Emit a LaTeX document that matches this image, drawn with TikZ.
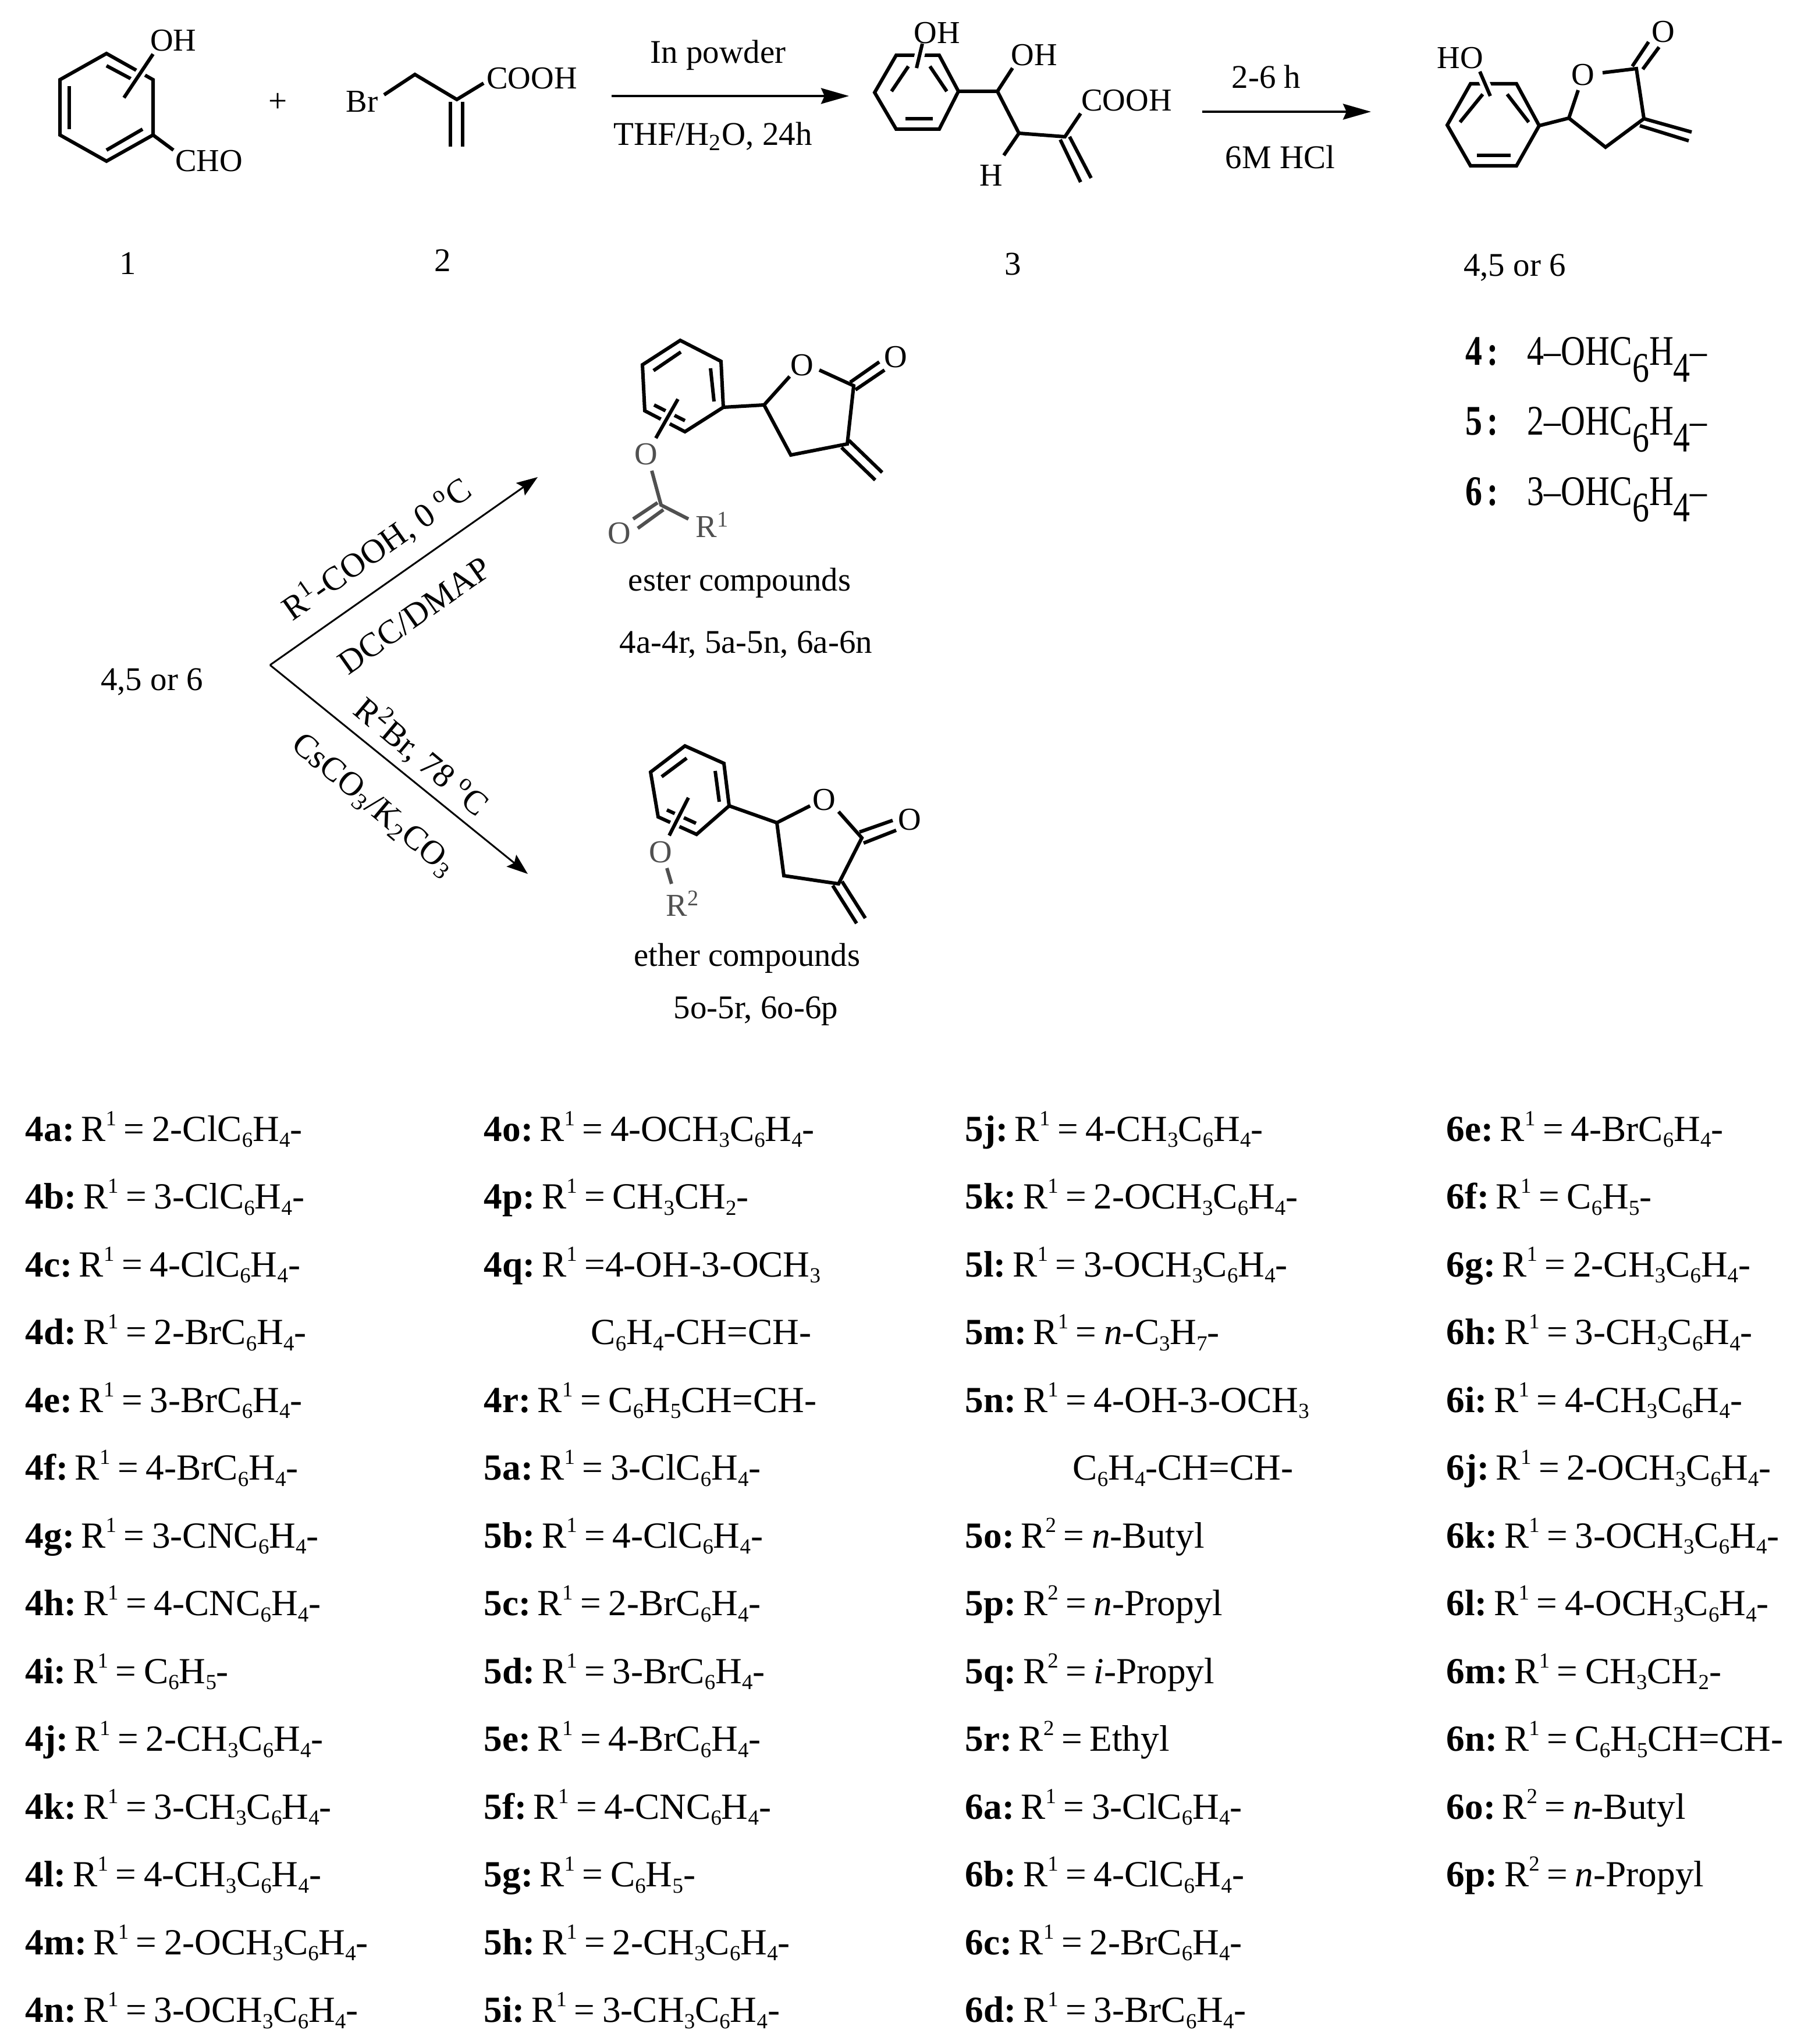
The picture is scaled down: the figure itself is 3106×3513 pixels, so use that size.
\documentclass[tikz,border=0pt]{standalone}
\usepackage{fontspec}
\setmainfont{Liberation Serif}
\newfontfamily\legendfont[FakeStretch=0.8]{Liberation Serif}
\usetikzlibrary{arrows.meta}
\newcommand{\lsub}[1]{\textsubscript{#1}}
\newcommand{\lsup}[1]{\textsuperscript{#1}}
\newcommand{\tsub}[1]{\raisebox{-0.17em}{\fontsize{10.5}{10}\selectfont #1}}
\newcommand{\tsup}[1]{\raisebox{0.42em}{\fontsize{10.5}{10}\selectfont #1}}
\newcommand{\rone}{R\tsup{1}\hspace{0.2em}=\hspace{0.2em}}
\newcommand{\rtwo}{R\tsup{2}\hspace{0.2em}=\hspace{0.2em}}
\newcommand{\aryl}{C\tsub{6}H\tsub{4}-}
\newcommand{\lowfig}[1]{\raisebox{-0.4em}{#1}}
\definecolor{textgray}{HTML}{505050}
\tikzset{
    every node/.style={inner sep=0pt, font=\fontsize{16.2}{20}\selectfont},
    bond/.style={line width=0.06cm, line join=miter},
    crossbond/.style={bond, preaction={draw, white, line width=0.17cm}},
    bondgray/.style={bond, color=textgray},
    atom/.style={font=\fontsize{15.6}{20}\selectfont},
    atomgray/.style={atom, text=textgray},
    rxn/.style={line width=0.04cm, -{Stealth[length=0.48cm, width=0.27cm, inset=0.06cm]}},
    rxnthin/.style={line width=0.03cm, -{Stealth[length=0.36cm, width=0.26cm, inset=0.06cm]}},
    slanted/.style={font=\fontsize{16.6}{20}\selectfont},
    caption/.style={font=\fontsize{16.1}{20}\selectfont},
    entry/.style={anchor=base west, font=\fontsize{18}{22}\selectfont},
    legend/.style={anchor=base west, font=\fontsize{20.6}{24}\legendfont},
}
\begin{document}
\begin{tikzpicture}[x=0.01cm, y=-0.01cm]
    \useasboundingbox (0,0) rectangle (3106,3513);
    % Aldehyde 1
    \draw[bond] (183,92) -- (263,137) -- (263,232) -- (183,277) -- (103,232) -- (103,137) -- cycle;
    \draw[bond] (183,113) -- (228,137);
    \draw[bond] (119,148) -- (119,222);
    \draw[bond] (245,222) -- (183,258);
    \draw[crossbond] (263,93) -- (213,168);
    \draw[bond] (263,232) -- (298,258);
    \node[atom] (ohA) at (298,70) {OH};
    \node[atom] (choA) at (359,277) {CHO};
    \node (plus) at (478,176) {+};
    % Bromo acid 2
    \draw[bond] (660,163) -- (713,128) -- (785,171) -- (831,143);
    \draw[bond] (774,175) -- (774,252);
    \draw[bond] (795,175) -- (795,252);
    \node[atom] (brB) at (622,175) {Br};
    \node[atom] (coohB) at (914,135) {COOH};
    \node (numA) at (220,453) {1};
    \node (numB) at (761,448) {2};
    % First arrow
    \coordinate (arrAs) at (1051,165);
    \coordinate (arrAe) at (1459,165);
    \draw[rxn] (arrAs) -- (arrAe);
    \node (powder) at (1234,95) {In powder};
    \node (thf) at (1225,234) {THF/H\lsub{2}O, 24h};
    % Hydroxy acid 3
    \draw[bond] (1540,95) -- (1614,95) -- (1647,157) -- (1614,222) -- (1540,222) -- (1503,159) -- cycle;
    \draw[bond] (1561,114) -- (1532,157);
    \draw[bond] (1598,114) -- (1627,157);
    \draw[bond] (1556,204) -- (1603,204);
    \draw[crossbond] (1585,75) -- (1575,117);
    \draw[bond] (1647,157) -- (1714,157) -- (1751,229) -- (1830,235) -- (1857,195);
    \draw[bond] (1714,157) -- (1740,117);
    \draw[bond] (1751,229) -- (1725,267);
    \draw[bond] (1838,235) -- (1875,306);
    \draw[bond] (1822,240) -- (1857,313);
    \node[atom] (ohC) at (1610,57) {OH};
    \node[atom] (ohCb) at (1777,95) {OH};
    \node[atom] (hC) at (1703,302) {H};
    \node[atom] (coohC) at (1936,173) {COOH};
    \node (numC) at (1741,454) {3};
    % Second arrow
    \coordinate (arrBs) at (2066,192);
    \coordinate (arrBe) at (2356,192);
    \draw[rxn] (arrBs) -- (arrBe);
    \node (hours) at (2176,132) {2-6 h};
    \node (hcl) at (2200,270) {6M HCl};
    % Lactone 4,5 or 6
    \draw[bond] (2527,144) -- (2606,144) -- (2645,216) -- (2606,285) -- (2527,285) -- (2487,215) -- cycle;
    \draw[bond] (2548,162) -- (2509,210);
    \draw[bond] (2590,162) -- (2627,210);
    \draw[bond] (2538,267) -- (2596,267);
    \draw[crossbond] (2543,123) -- (2561,165);
    \draw[bond] (2645,216) -- (2696,203) -- (2712,155);
    \draw[bond] (2754,125) -- (2812,118) -- (2825,204) -- (2759,253) -- (2696,203);
    \draw[bond] (2805,114) -- (2833,72);
    \draw[bond] (2823,119) -- (2851,81);
    \draw[bond] (2825,204) -- (2907,227);
    \draw[bond] (2818,216) -- (2902,242);
    \node[atom] (hoD) at (2509,100) {HO};
    \node[atom] (oD) at (2720,129) {O};
    \node[atom] (oDb) at (2858,55) {O};
    \node (numD) at (2603,460) {4,5 or 6};
    % Legend
    \node[legend] (legA) at (2518,628) {\textbf{4}\hspace{0.11em}\textbf{:}};
    \node[legend] (legAt) at (2624,628) {4–OHC\lowfig{6}H\lowfig{4}–};
    \node[legend] (legB) at (2518,748) {\textbf{5}\hspace{0.11em}\textbf{:}};
    \node[legend] (legBt) at (2624,748) {2–OHC\lowfig{6}H\lowfig{4}–};
    \node[legend] (legC) at (2518,868) {\textbf{6}\hspace{0.11em}\textbf{:}};
    \node[legend] (legCt) at (2624,868) {3–OHC\lowfig{6}H\lowfig{4}–};
    % Branching arrows
    \node (start) at (261,1172) {4,5 or 6};
    \coordinate (apex) at (464,1143);
    \coordinate (tipUp) at (924,820);
    \coordinate (tipDn) at (907,1502);
    \draw[rxnthin] (apex) -- (tipUp);
    \draw[rxnthin] (apex) -- (tipDn);
    \node[slanted, rotate=35] (acid) at (647,943) {R\lsup{1}-COOH, 0 \lsup{o}C};
    \node[slanted, rotate=35] (dcc) at (712,1058) {DCC/DMAP};
    \node[slanted, rotate=-40] (brom) at (725,1300) {R\lsup{2}Br, 78 \lsup{o}C};
    \node[slanted, rotate=-40] (base) at (641,1385) {CsCO\lsub{3}/K\lsub{2}CO\lsub{3}};
    % Ester compounds
    \draw[bond] (1169,585) -- (1239,621) -- (1243,700) -- (1177,742) -- (1108,706) -- (1104,627) -- cycle;
    \draw[bond] (1123,637) -- (1170,605);
    \draw[bond] (1221,633) -- (1227,690);
    \draw[bond] (1124,696) -- (1177,723);
    \draw[crossbond] (1165,686) -- (1127,753);
    \draw[bond] (1243,700) -- (1313,696) -- (1357,647);
    \draw[bond] (1408,636) -- (1467,663) -- (1456,763) -- (1359,782) -- (1313,696);
    \draw[bond] (1461,657) -- (1511,622);
    \draw[bond] (1470,670) -- (1520,636);
    \draw[bond] (1459,757) -- (1516,812);
    \draw[bond] (1446,769) -- (1504,825);
    \draw[bondgray] (1120,809) -- (1136,868) -- (1183,892);
    \draw[bondgray] (1130,864) -- (1088,892);
    \draw[bondgray] (1140,876) -- (1096,908);
    \node[atomgray] (oEa) at (1110,781) {O};
    \node[atomgray] (oEb) at (1064,917) {O};
    \node[atomgray, anchor=west] (rE) at (1195,902) {R\lsup{1}};
    \node[atom] (oEc) at (1378,628) {O};
    \node[atom] (oEd) at (1539,614) {O};
    \node[caption] (esterA) at (1271,1002) {ester compounds};
    \node (esterB) at (1282,1108) {4a-4r, 5a-5n, 6a-6n};
    % Ether compounds
    \draw[bond] (1177,1282) -- (1244,1312) -- (1253,1385) -- (1197,1434) -- (1131,1404) -- (1118,1327) -- cycle;
    \draw[bond] (1137,1335) -- (1180,1303);
    \draw[bond] (1229,1325) -- (1236,1378);
    \draw[bond] (1146,1392) -- (1196,1415);
    \draw[crossbond] (1183,1371) -- (1150,1436);
    \draw[bond] (1253,1385) -- (1335,1414) -- (1392,1385);
    \draw[bond] (1441,1395) -- (1481,1440) -- (1441,1519) -- (1347,1505) -- (1335,1414);
    \draw[bond] (1477,1430) -- (1534,1410);
    \draw[bond] (1484,1449) -- (1540,1427);
    \draw[bond] (1447,1515) -- (1487,1578);
    \draw[bond] (1431,1522) -- (1472,1587);
    \draw[bondgray] (1146,1492) -- (1154,1519);
    \node[atomgray] (oFa) at (1135,1465) {O};
    \node[atomgray, anchor=west] (rF) at (1144,1553) {R\lsup{2}};
    \node[atom] (oFb) at (1416,1375) {O};
    \node[atom] (oFc) at (1563,1409) {O};
    \node[caption] (etherA) at (1284,1647) {ether compounds};
    \node (etherB) at (1299,1738) {5o-5r, 6o-6p};
    % Table, first column
    \foreach \lab/\rval [count=\i from 0] in {
        4a/2-Cl\aryl, 4b/3-Cl\aryl, 4c/4-Cl\aryl, 4d/2-Br\aryl, 4e/3-Br\aryl, 4f/4-Br\aryl,
        4g/3-CN\aryl, 4h/4-CN\aryl, 4i/C\tsub{6}H\tsub{5}-, 4j/2-CH\tsub{3}\aryl, 4k/3-CH\tsub{3}\aryl,
        4l/4-CH\tsub{3}\aryl, 4m/2-OCH\tsub{3}\aryl, 4n/3-OCH\tsub{3}\aryl} {
        \node[entry] (c\lab) at (43,{1961+116.5*\i}) {\textbf{\lab:}\hspace{0.18em}\rone\rval};
    }
    % Second column
    \foreach \lab/\rval [count=\i from 0] in {4o/4-OCH\tsub{3}\aryl, 4p/CH\tsub{3}CH\tsub{2}-} {
        \node[entry] (c\lab) at (831,{1961+116.5*\i}) {\textbf{\lab:}\hspace{0.18em}\rone\rval};
    }
    \node[entry] (c4q) at (831,2194) {\textbf{4q:}\hspace{0.18em}R\tsup{1}\hspace{0.2em}=4-OH-3-OCH\tsub{3}};
    \node[entry] (c4qb) at (1015,2310.5) {\aryl CH=CH-};
    \foreach \lab/\rval [count=\i from 4] in {
        4r/C\tsub{6}H\tsub{5}CH=CH-, 5a/3-Cl\aryl, 5b/4-Cl\aryl, 5c/2-Br\aryl, 5d/3-Br\aryl, 5e/4-Br\aryl,
        5f/4-CN\aryl, 5g/C\tsub{6}H\tsub{5}-, 5h/2-CH\tsub{3}\aryl, 5i/3-CH\tsub{3}\aryl} {
        \node[entry] (c\lab) at (831,{1961+116.5*\i}) {\textbf{\lab:}\hspace{0.18em}\rone\rval};
    }
    % Third column
    \foreach \lab/\rval [count=\i from 0] in {
        5j/4-CH\tsub{3}\aryl, 5k/2-OCH\tsub{3}\aryl, 5l/3-OCH\tsub{3}\aryl,
        5m/\textit{n}-C\tsub{3}H\tsub{7}-, 5n/4-OH-3-OCH\tsub{3}} {
        \node[entry] (c\lab) at (1658,{1961+116.5*\i}) {\textbf{\lab:}\hspace{0.18em}\rone\rval};
    }
    \node[entry] (c5nb) at (1843,2543.5) {\aryl CH=CH-};
    \foreach \lab/\rval [count=\i from 6] in {
        5o/\textit{n}-Butyl, 5p/\textit{n}-Propyl, 5q/\textit{i}-Propyl, 5r/Ethyl} {
        \node[entry] (c\lab) at (1658,{1961+116.5*\i}) {\textbf{\lab:}\hspace{0.18em}\rtwo\rval};
    }
    \foreach \lab/\rval [count=\i from 10] in {6a/3-Cl\aryl, 6b/4-Cl\aryl, 6c/2-Br\aryl, 6d/3-Br\aryl} {
        \node[entry] (c\lab) at (1658,{1961+116.5*\i}) {\textbf{\lab:}\hspace{0.18em}\rone\rval};
    }
    % Fourth column
    \foreach \lab/\rval [count=\i from 0] in {
        6e/4-Br\aryl, 6f/C\tsub{6}H\tsub{5}-, 6g/2-CH\tsub{3}\aryl, 6h/3-CH\tsub{3}\aryl, 6i/4-CH\tsub{3}\aryl,
        6j/2-OCH\tsub{3}\aryl, 6k/3-OCH\tsub{3}\aryl, 6l/4-OCH\tsub{3}\aryl, 6m/CH\tsub{3}CH\tsub{2}-,
        6n/C\tsub{6}H\tsub{5}CH=CH-} {
        \node[entry] (c\lab) at (2485,{1961+116.5*\i}) {\textbf{\lab:}\hspace{0.18em}\rone\rval};
    }
    \foreach \lab/\rval [count=\i from 10] in {6o/\textit{n}-Butyl, 6p/\textit{n}-Propyl} {
        \node[entry] (c\lab) at (2485,{1961+116.5*\i}) {\textbf{\lab:}\hspace{0.18em}\rtwo\rval};
    }
\end{tikzpicture}
\end{document}
